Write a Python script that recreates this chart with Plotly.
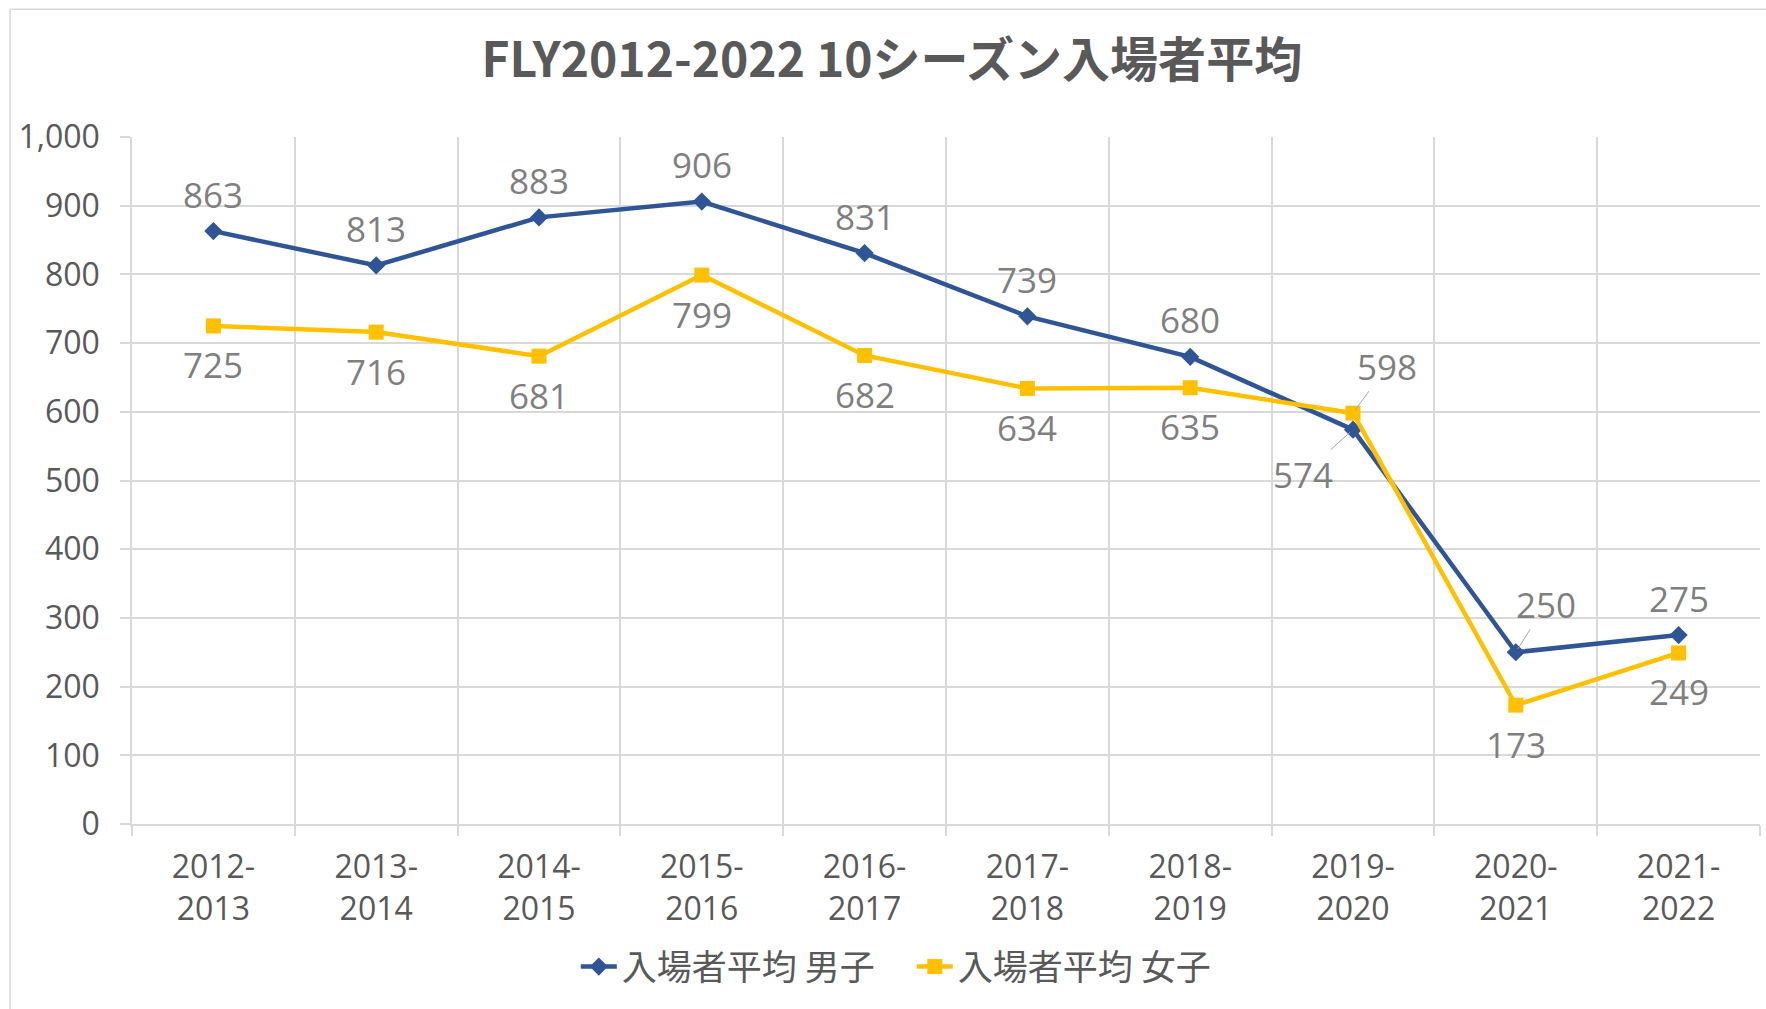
import plotly.graph_objects as go

seasons = ["2012-2013", "2013-2014", "2014-2015", "2015-2016", "2016-2017",
           "2017-2018", "2018-2019", "2019-2020", "2020-2021", "2021-2022"]
season_labels = [s.replace("-", "-<br>") for s in seasons]
male = [863, 813, 883, 906, 831, 739, 680, 574, 250, 275]
female = [725, 716, 681, 799, 682, 634, 635, 598, 173, 249]
male_name = "入場者平均 男子"
female_name = "入場者平均 女子"
title_text = "FLY2012-2022 10シーズン入場者平均"

BLUE = "#2F5597"
YELLOW = "#FFC000"
GRID = "#D9D9D9"
TXT = "#595959"
LBL = "#7F7F7F"
FONT = "Open Sans, Noto Sans CJK JP, sans-serif"
CJK = "Noto Sans CJK JP, sans-serif"

fig = go.Figure()
fig.add_trace(go.Scatter(
    x=season_labels, y=male, name=male_name, mode="lines+markers",
    line=dict(color=BLUE, width=4.5),
    marker=dict(symbol="diamond", size=14, color=BLUE),
))
fig.add_trace(go.Scatter(
    x=season_labels, y=female, name=female_name, mode="lines+markers",
    line=dict(color=YELLOW, width=4.5),
    marker=dict(symbol="square", size=15, color=YELLOW),
))

annotations = []
label_font = dict(family=FONT, size=35, color=LBL)
# male labels
for i, (xv, yv) in enumerate(zip(season_labels, male)):
    if i == 7:
        annotations.append(dict(x=xv, y=yv, text=str(yv), showarrow=True, arrowhead=0,
                                arrowwidth=1, arrowcolor="#A6A6A6", ax=-50, ay=45,
                                font=label_font, standoff=4))
    elif i == 8:
        annotations.append(dict(x=xv, y=yv, text=str(yv), showarrow=True, arrowhead=0,
                                arrowwidth=1, arrowcolor="#A6A6A6", ax=30, ay=-48,
                                font=label_font, standoff=4))
    else:
        annotations.append(dict(x=xv, y=yv, text=str(yv), showarrow=False,
                                yshift=37, font=label_font))
# female labels
for i, (xv, yv) in enumerate(zip(season_labels, female)):
    if i == 7:
        annotations.append(dict(x=xv, y=yv, text=str(yv), showarrow=True, arrowhead=0,
                                arrowwidth=1, arrowcolor="#A6A6A6", ax=34, ay=-47,
                                font=label_font, standoff=4))
    else:
        annotations.append(dict(x=xv, y=yv, text=str(yv), showarrow=False,
                                yshift=-39, font=label_font))

fig.update_layout(
    width=1766, height=1009,
    margin=dict(l=132, r=6, t=137, b=185),
    paper_bgcolor="white", plot_bgcolor="white",
    title=dict(text="<b>" + title_text + "</b>", x=0.505, xanchor="center",
               y=0.94, yanchor="middle",
               font=dict(family=CJK, size=48, color=TXT)),
    showlegend=True,
    legend=dict(orientation="h", x=0.479, xanchor="center", y=-0.165, yanchor="top",
                font=dict(family=CJK, size=35, color=TXT), itemwidth=36,
                entrywidth=285, traceorder="normal"),
    annotations=annotations,
    shapes=[
        dict(type="line", xref="paper", yref="paper", x0=-0.0749, x1=-0.0749,
             y0=-0.35, y1=1.186, line=dict(color=GRID, width=1.5)),
        dict(type="line", xref="paper", yref="paper", x0=-0.0749, x1=1.01,
             y0=1.186, y1=1.186, line=dict(color=GRID, width=1.5)),
    ],
)
fig.update_xaxes(
    type="category", range=[-0.5, len(seasons) - 0.5], tickson="boundaries",
    showgrid=True, gridcolor=GRID, gridwidth=1.5,
    showline=True, linecolor=GRID, linewidth=1.5, automargin=False,
    ticks="outside", ticklen=10, tickcolor=GRID, tickwidth=1.5,
    tickfont=dict(family=FONT, size=32, color=TXT), ticklabelstandoff=14,
)
fig.update_yaxes(
    range=[0, 1000], dtick=100, tickformat=",", showgrid=True, gridcolor=GRID, gridwidth=1.5,
    showline=True, linecolor=GRID, linewidth=1.5, zeroline=False, automargin=False,
    ticks="outside", ticklen=10, tickcolor=GRID, tickwidth=1.5,
    tickfont=dict(family=FONT, size=32, color=TXT), ticklabelstandoff=14,
)

fig.write_html("out.html")
